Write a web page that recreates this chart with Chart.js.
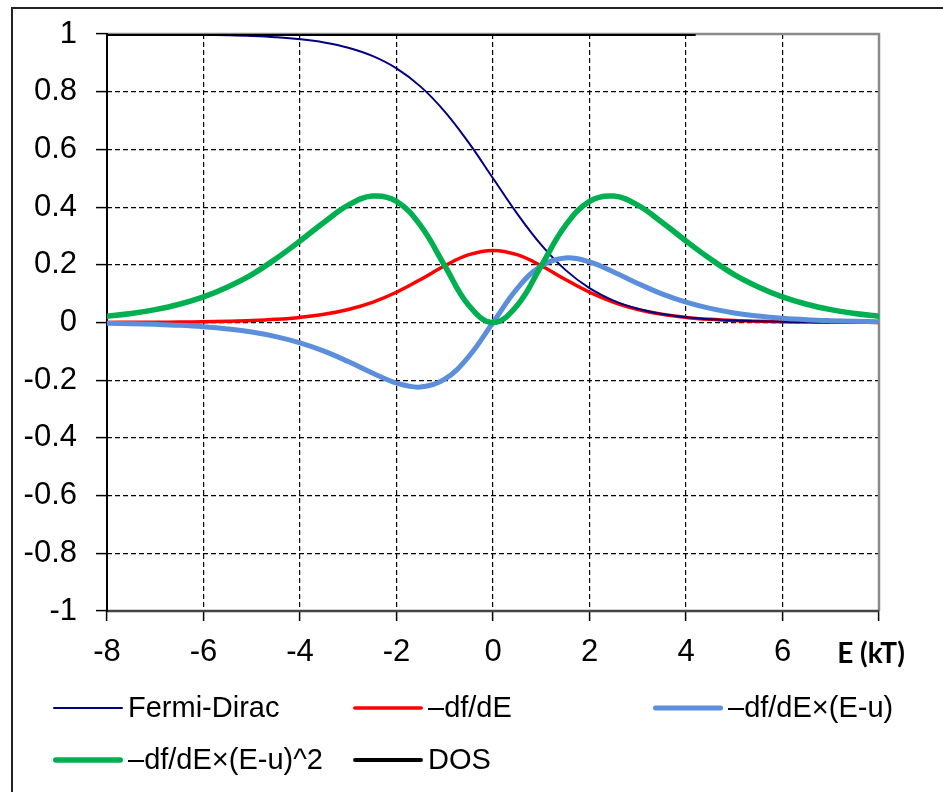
<!DOCTYPE html>
<html>
<head>
<meta charset="utf-8">
<script src="https://cdn.jsdelivr.net/npm/chart.js@4"></script>
<style>
  html, body { margin: 0; padding: 0; background: #fff; }
  canvas { display: block; }
</style>
</head>
<body>
<canvas id="c" width="943" height="792"></canvas>
<script>
// ---- data ----
const energies = [-8,-7.5,-7,-6.5,-6,-5.5,-5,-4.5,-4,-3.5,-3,-2.5,-2,-1.5,-1,-0.5,0,0.5,1,1.5,2,2.5,3,3.5,4,4.5,5,5.5,6,6.5,7,7.5,8];
const fermiDirac = [0.9997,0.9994,0.9991,0.9985,0.9975,0.9959,0.9933,0.9890,0.9820,0.9707,0.9526,0.9241,0.8808,0.8176,0.7311,0.6225,0.5,0.3775,0.2689,0.1824,0.1192,0.0759,0.0474,0.0293,0.0180,0.0110,0.0067,0.0041,0.0025,0.0015,0.0009,0.0006,0.0003];
const dfdE = [0.0003,0.0006,0.0009,0.0015,0.0025,0.0041,0.0066,0.0109,0.0177,0.0284,0.0452,0.0701,0.1050,0.1491,0.1966,0.2350,0.25,0.2350,0.1966,0.1491,0.1050,0.0701,0.0452,0.0284,0.0177,0.0109,0.0066,0.0041,0.0025,0.0015,0.0009,0.0006,0.0003];
const dfdE_E = [-0.0027,-0.0041,-0.0064,-0.0097,-0.0148,-0.0224,-0.0332,-0.0491,-0.0707,-0.0993,-0.1355,-0.1752,-0.2100,-0.2237,-0.1966,-0.1175,0,0.1175,0.1966,0.2237,0.2100,0.1752,0.1355,0.0993,0.0707,0.0491,0.0332,0.0224,0.0148,0.0097,0.0064,0.0041,0.0027];
const dfdE_E2 = [0.0215,0.0309,0.0447,0.0633,0.0887,0.1233,0.1662,0.2210,0.2826,0.3476,0.4066,0.4381,0.4200,0.3355,0.1966,0.0588,0,0.0588,0.1966,0.3355,0.4200,0.4381,0.4066,0.3476,0.2826,0.2210,0.1662,0.1233,0.0887,0.0633,0.0447,0.0309,0.0215];
const dosE = [-8, 4.2];
const dosValues = [1, 1];

const xTicks = [-8,-6,-4,-2,0,2,4,6,8];
const yTicks = [-1,-0.8,-0.6,-0.4,-0.2,0,0.2,0.4,0.6,0.8,1];
const seriesLabels = ['Fermi-Dirac', '–df/dE', '–df/dE×(E-u)', '–df/dE×(E-u)^2', 'DOS'];
const xAxisTitle = 'E (kT)';

const toPts = (xs, ys) => xs.map((x, i) => ({x, y: ys[i]}));

const legendPos = [[53,708],[353,708],[653,708],[53,760],[353,760]];

const decorPlugin = {
  id: 'decor',
  beforeDatasetsDraw(chart) {
    const {ctx, chartArea: a} = chart;
    ctx.save();
    ctx.strokeStyle = '#8a8a8a';
    ctx.lineWidth = 2.5;
    ctx.beginPath();
    ctx.moveTo(a.left, a.top);
    ctx.lineTo(a.right, a.top);
    ctx.lineTo(a.right, a.bottom);
    ctx.stroke();
    ctx.strokeStyle = '#444';
    ctx.lineWidth = 2.5;
    ctx.beginPath();
    ctx.moveTo(a.left, a.bottom);
    ctx.lineTo(a.right, a.bottom);
    ctx.stroke();
    ctx.strokeStyle = '#000';
    ctx.lineWidth = 2;
    ctx.beginPath();
    ctx.moveTo(a.left, a.top - 1);
    ctx.lineTo(a.left, a.bottom + 1);
    ctx.stroke();
    ctx.restore();
  },
  afterDraw(chart) {
    const {ctx} = chart;
    ctx.save();
    // outer frame
    ctx.strokeStyle = '#222';
    ctx.lineWidth = 2;
    ctx.strokeRect(12, 8, 1000, 1000);
    // axis title
    ctx.fillStyle = '#000';
    ctx.font = 'bold 28px Lato, "Liberation Sans", sans-serif';
    ctx.textAlign = 'center';
    ctx.textBaseline = 'middle';
    ctx.fillText(xAxisTitle, 871, 654);
    // legend
    ctx.font = '29px "Liberation Sans", Arial, sans-serif';
    ctx.textAlign = 'left';
    chart.data.datasets.forEach((ds, i) => {
      const [x, y] = legendPos[i];
      ctx.strokeStyle = ds.borderColor;
      ctx.lineWidth = ds.borderWidth;
      ctx.lineCap = 'round';
      ctx.beginPath();
      ctx.moveTo(x + ds.borderWidth / 2, y);
      ctx.lineTo(x + 70 - ds.borderWidth / 2, y);
      ctx.stroke();
      ctx.fillStyle = '#000';
      ctx.fillText(ds.label, x + 75, y + 1);
    });
    ctx.restore();
  }
};

const common = {pointRadius: 0, pointHoverRadius: 0, fill: false, tension: 0.4, borderCapStyle: 'round', borderJoinStyle: 'round'};

new Chart(document.getElementById('c'), {
  type: 'line',
  data: {
    datasets: [
      {...common, label: seriesLabels[0], data: toPts(energies, fermiDirac), borderColor: '#000080', borderWidth: 2, order: 4},
      {...common, label: seriesLabels[1], data: toPts(energies, dfdE), borderColor: '#ff0000', borderWidth: 3.5, order: 5},
      {...common, label: seriesLabels[2], data: toPts(energies, dfdE_E), borderColor: '#5b8fdb', borderWidth: 5, order: 3},
      {...common, label: seriesLabels[3], data: toPts(energies, dfdE_E2), borderColor: '#00b050', borderWidth: 5.5, order: 2},
      {...common, label: seriesLabels[4], data: toPts(dosE, dosValues), borderColor: '#000000', borderWidth: 4, tension: 0, borderCapStyle: 'butt', order: 1}
    ]
  },
  options: {
    responsive: false,
    animation: false,
    events: [],
    layout: {padding: {left: 0, right: 64, top: 34, bottom: 0}},
    plugins: {legend: {display: false}, tooltip: {enabled: false}},
    scales: {
      x: {
        type: 'linear',
        min: -8, max: 8,
        afterBuildTicks: (s) => { s.ticks = xTicks.map(v => ({value: v})); },
        afterFit: (s) => { s.height = 181; s.paddingLeft = 0; s.paddingRight = 0; },
        border: {display: false, dash: [5, 3]},
        grid: {
          color: '#000', lineWidth: 1.2,
          drawTicks: true, tickLength: 10, tickColor: '#000', tickWidth: 1.5, tickBorderDash: []
        },
        ticks: {
          padding: 13, color: '#000', maxRotation: 0, autoSkip: false,
          font: {family: '"Liberation Sans", Arial, sans-serif', size: 31},
          callback: (v) => v === 8 ? '' : String(v)
        }
      },
      y: {
        min: -1, max: 1,
        afterBuildTicks: (s) => { s.ticks = yTicks.map(v => ({value: v})); },
        afterFit: (s) => { s.width = 107; s.paddingTop = 0; s.paddingBottom = 0; },
        border: {display: false, dash: [5, 3]},
        grid: {
          color: '#000', lineWidth: 1.2,
          drawTicks: true, tickLength: 11, tickColor: '#000', tickWidth: 1.5, tickBorderDash: []
        },
        ticks: {
          padding: 19, color: '#000', autoSkip: false,
          font: {family: '"Liberation Sans", Arial, sans-serif', size: 31},
          callback: (v) => String(Math.round(v * 10) / 10)
        }
      }
    }
  },
  plugins: [decorPlugin]
});
</script>
</body>
</html>
